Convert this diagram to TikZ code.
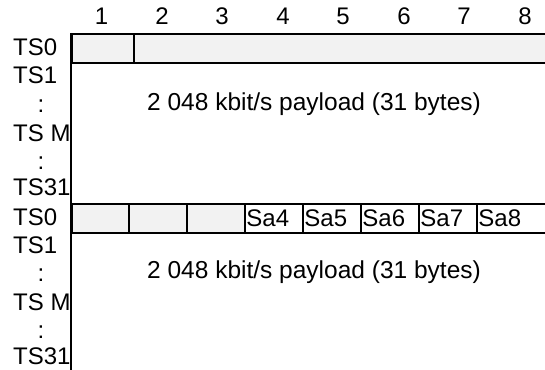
\documentclass[tikz,border=0pt]{standalone}
\usepackage{fontspec}
\setmainfont{Liberation Sans}
\usetikzlibrary{positioning}

\begin{document}
\begin{tikzpicture}[x=1pt, y=-1pt,
    cell/.style={draw, line width=1.8pt, fill=black!5, minimum height=29pt,
                 inner sep=0pt, anchor=north west},
    sacell/.style={draw, line width=1.8pt, fill=white, minimum height=29pt,
                   text width=55pt, inner xsep=1.5pt, inner ysep=0pt, align=left,
                   anchor=north west, font=\fontsize{24}{28}\selectfont},
    colnum/.style={anchor=base, inner sep=0pt, font=\fontsize{24}{28}\selectfont},
    rowlab/.style={anchor=base west, inner sep=0pt, font=\fontsize{24}{28}\selectfont},
    dots/.style={anchor=base, inner sep=0pt, font=\fontsize{24}{28}\selectfont},
    payload/.style={inner sep=0pt, font=\fontsize{24.5}{28}\selectfont}
  ]
    \useasboundingbox (0,0) rectangle (545,369);
    \clip (0,0) rectangle (545,369);

    % Bit numbers
    \node[colnum] (n1) at (101.5,25) {1};
    \node[colnum] (n2) at (162,25) {2};
    \node[colnum] (n3) at (222,25) {3};
    \node[colnum] (n4) at (283,25) {4};
    \node[colnum] (n5) at (343,25) {5};
    \node[colnum] (n6) at (404,25) {6};
    \node[colnum] (n7) at (464,25) {7};
    \node[colnum] (n8) at (525,25) {8};

    % First frame
    \node[cell, minimum width=62pt]  (ta1) at (71,33) {};
    \node[cell, minimum width=420pt] (ta2) at (133,33) {};
    \node[payload] (pla) at (314,104) {2 048 kbit/s payload (31 bytes)};

    % Second frame
    \node[cell, minimum width=57pt] (tb1) at (71,203) {};
    \node[cell, minimum width=58pt] (tb2) at (128,203) {};
    \node[cell, minimum width=58pt] (tb3) at (186,203) {};
    \node[sacell] (sa4) at (244,203) {Sa4};
    \node[sacell] (sa5) at (302,203) {Sa5};
    \node[sacell] (sa6) at (360,203) {Sa6};
    \node[sacell] (sa7) at (418,203) {Sa7};
    \node[sacell, text width=80pt] (sa8) at (476,203) {Sa8};
    \node[payload] (plb) at (314,272) {2 048 kbit/s payload (31 bytes)};

    % Left edge
    \coordinate (bot) at (71,372);
    \draw[line width=2pt] (ta1.north west) -- (bot);

    % Time slot labels
    \node[rowlab] (a0)  at (13,55.5)  {TS0};
    \node[rowlab] (a1)  at (13,83.5)  {TS1};
    \node[dots]   (ad1) at (41,112.5) {:};
    \node[rowlab] (am)  at (13,141) {TS M};
    \node[dots]   (ad2) at (41,169.5) {:};
    \node[rowlab] (a31) at (13,195.5) {TS31};
    \node[rowlab] (b0)  at (13,225.5) {TS0};
    \node[rowlab] (b1)  at (13,253.5) {TS1};
    \node[dots]   (bd1) at (41,281.5) {:};
    \node[rowlab] (bm)  at (13,310) {TS M};
    \node[dots]   (bd2) at (41,338.5) {:};
    \node[rowlab] (b31) at (13,364) {TS31};
\end{tikzpicture}
\end{document}
